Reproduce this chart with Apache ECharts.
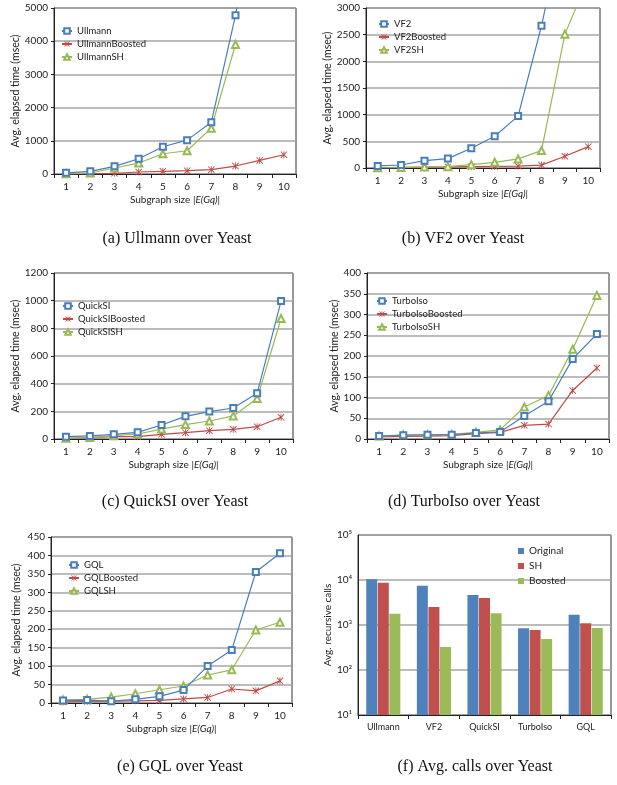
<!DOCTYPE html>
<html>
<head>
<meta charset="utf-8">
<script src="https://cdn.jsdelivr.net/npm/echarts/dist/echarts.min.js"></script>
<style>
  html, body { margin: 0; padding: 0; background: #fff; }
  #main { width: 617px; height: 785px; }
</style>
</head>
<body>
<div id="main"></div>
<script>
// x categories (query size)
const sizes = ['1', '2', '3', '4', '5', '6', '7', '8', '9', '10'];

// (a) Ullmann
const ullmann = [35, 80, 230, 460, 820, 1020, 1560, 4780, 9000, null];
const ullmannBoosted = [5, 10, 20, 60, 80, 100, 130, 240, 410, 580];
const ullmannSH = [5, 30, 180, 330, 610, 700, 1380, 3900, null, null];

// (b) VF2
const vf2 = [38, 56, 138, 176, 370, 596, 973, 2667, 4700, null];
const vf2Boosted = [5, 10, 15, 20, 25, 30, 35, 55, 220, 400];
const vf2SH = [3, 8, 19, 25, 63, 107, 170, 326, 2510, 3550];

// (c) QuickSI
const quickSI = [17, 22, 34, 48, 101, 164, 198, 224, 330, 997];
const quickSIBoosted = [5, 10, 17, 17, 34, 46, 60, 70, 89, 157];
const quickSISH = [5, 10, 24, 36, 72, 104, 130, 167, 292, 871];

// (d) TurboIso
const turboIso = [7, 9, 10, 10.5, 14.5, 17, 55.5, 91, 193, 253];
const turboIsoBoosted = [5, 6.5, 7, 8, 13, 16, 33, 36, 117, 171];
const turboIsoSH = [7, 10, 10, 11, 16, 22, 77, 105, 216, 346];

// (e) GQL
const gql = [7, 8, 5, 10, 18, 35, 100, 144, 355, 406];
const gqlBoosted = [3, 4, 5, 6, 7, 11, 15, 38, 33, 60];
const gqlSH = [8, 10, 16, 25, 36, 46, 76, 90, 198, 219];

// (f) avg. recursive calls
const algos = ['Ullmann', 'VF2', 'QuickSI', 'TurboIso', 'GQL'];
const callsOriginal = [10350, 7480, 4640, 843, 1698];
const callsSH = [8730, 2510, 3980, 774, 1089];
const callsBoosted = [1785, 325, 1815, 489, 858];

const captions = [
  '(a) Ullmann over Yeast', '(b) VF2 over Yeast',
  '(c) QuickSI over Yeast', '(d) TurboIso over Yeast',
  '(e) GQL over Yeast', '(f) Avg. calls over Yeast'
];

const FONT = 'Lato';
const BLUE = '#4a7ebb', RED = '#be4b48', GREEN = '#98b954';
// asterisk marker (x plus vertical bar), filled
const starPath = 'path://M4.4,0L5.6,0L5.6,10L4.4,10Z M0,0.9L0.9,0L10,9.1L9.1,10Z M9.1,0L10,0.9L0.9,10L0,9.1Z';

const chart = echarts.init(document.getElementById('main'));

const grids = [], xAxes = [], yAxes = [], series = [], legends = [], titles = [];

// one line panel
function linePanel(i, p) {
  grids.push({ left: p.left, top: p.top, width: p.width, height: p.height,
    show: true, borderColor: '#333', borderWidth: 1, backgroundColor: 'transparent' });
  xAxes.push({
    gridIndex: i, type: 'category', data: sizes, boundaryGap: true,
    name: 'Subgraph size |{i|E(Gq)}|', nameLocation: 'middle', nameGap: p.nameGapX,
    nameTextStyle: { fontFamily: FONT, fontSize: 10, color: '#222',
      rich: { i: { fontFamily: FONT, fontSize: 10, fontStyle: 'italic', color: '#222' } } },
    axisLine: { lineStyle: { color: '#222', width: 1 } },
    axisTick: { show: true, alignWithLabel: false, interval: 0, length: 4, lineStyle: { color: '#222' } },
    axisLabel: { interval: 0, margin: 8, fontFamily: FONT, fontSize: 10, color: '#222' },
    splitLine: { show: false }
  });
  yAxes.push({
    gridIndex: i, type: 'value', min: 0, max: p.max, interval: p.interval,
    name: 'Avg. elapsed time (msec)', nameLocation: 'middle', nameGap: p.nameGapY,
    nameTextStyle: { fontFamily: FONT, fontSize: 10.5, color: '#222' },
    axisLine: { show: true, lineStyle: { color: '#222', width: 1 } },
    axisTick: { show: true, length: 3, lineStyle: { color: '#222' } },
    axisLabel: { margin: 6, fontFamily: FONT, fontSize: 10, color: '#222', formatter: v => String(v) },
    splitLine: { show: true, lineStyle: { color: '#a6a6a6', width: 1.5 } }
  });
  const styles = [
    { symbol: 'emptyRect', color: BLUE, size: 6, bw: 1.1 },
    { symbol: starPath, color: RED, size: 7, bw: 0 },
    { symbol: 'emptyTriangle', color: GREEN, size: 7, bw: 1.1 }
  ];
  p.names.forEach((name, k) => {
    series.push({
      name: name, type: 'line', xAxisIndex: i, yAxisIndex: i, data: p.data[k],
      clip: true, symbol: styles[k].symbol, symbolSize: styles[k].size, showAllSymbol: true,
      lineStyle: { color: styles[k].color, width: 1.2 },
      itemStyle: { color: styles[k].color, borderColor: styles[k].color, borderWidth: styles[k].bw },
      z: k === 0 ? 3 : 2
    });
  });
  legends.push({
    data: p.names, orient: 'vertical', left: p.legLeft, top: p.legTop,
    itemWidth: 10, itemHeight: 7, itemGap: 3, padding: 0,
    textStyle: { fontFamily: FONT, fontSize: 9.5, color: '#222' }
  });
}

linePanel(0, { left: 54, top: 8, width: 242, height: 166, max: 5000, interval: 1000,
  nameGapX: 21, nameGapY: 31, legLeft: 61, legTop: 26,
  names: ['Ullmann', 'UllmannBoosted', 'UllmannSH'], data: [ullmann, ullmannBoosted, ullmannSH] });
linePanel(1, { left: 366, top: 8, width: 234, height: 160, max: 3000, interval: 500,
  nameGapX: 21, nameGapY: 31, legLeft: 378, legTop: 19,
  names: ['VF2', 'VF2Boosted', 'VF2SH'], data: [vf2, vf2Boosted, vf2SH] });
linePanel(2, { left: 54, top: 273, width: 239, height: 166, max: 1200, interval: 200,
  nameGapX: 21, nameGapY: 32, legLeft: 62, legTop: 301,
  names: ['QuickSI', 'QuickSIBoosted', 'QuickSISH'], data: [quickSI, quickSIBoosted, quickSISH] });
linePanel(3, { left: 367, top: 273, width: 242, height: 166, max: 400, interval: 50,
  nameGapX: 21, nameGapY: 27, legLeft: 376, legTop: 296,
  names: ['TurboIso', 'TurboIsoBoosted', 'TurboIsoSH'], data: [turboIso, turboIsoBoosted, turboIsoSH] });
linePanel(4, { left: 51, top: 537, width: 241, height: 166, max: 450, interval: 50,
  nameGapX: 21, nameGapY: 29, legLeft: 68, legTop: 560,
  names: ['GQL', 'GQLBoosted', 'GQLSH'], data: [gql, gqlBoosted, gqlSH] });

// (f) bars on log axis
const sup = ['⁰', '¹', '²', '³', '⁴', '⁵'];
grids.push({ left: 358, top: 535, width: 253, height: 180,
  show: true, borderColor: '#333', borderWidth: 1, backgroundColor: 'transparent' });
xAxes.push({
  gridIndex: 5, type: 'category', data: algos,
  axisLine: { lineStyle: { color: '#222' } },
  axisTick: { show: true, alignWithLabel: false, length: 4, lineStyle: { color: '#222' } },
  axisLabel: { margin: 8, fontFamily: FONT, fontSize: 9, color: '#222' }
});
yAxes.push({
  gridIndex: 5, type: 'log', logBase: 10, min: 10, max: 100000,
  name: 'Avg. recursive calls', nameLocation: 'middle', nameGap: 24,
  nameTextStyle: { fontFamily: FONT, fontSize: 10, color: '#222' },
  axisLine: { show: true, lineStyle: { color: '#222' } },
  axisTick: { show: false },
  axisLabel: { margin: 6, fontFamily: FONT, fontSize: 10, color: '#222',
    formatter: v => '10' + sup[Math.round(Math.log10(v))] },
  splitLine: { show: true, lineStyle: { color: '#a6a6a6', width: 1.5 } }
});
[['Original', callsOriginal, '#4f81bd'], ['SH', callsSH, '#c0504d'], ['Boosted', callsBoosted, '#9bbb59']]
  .forEach(([name, data, color]) => {
    series.push({
      name: name, type: 'bar', xAxisIndex: 5, yAxisIndex: 5, data: data, clip: true,
      barWidth: 11, barGap: '5%', itemStyle: { color: color }
    });
  });
legends.push({
  data: ['Original', 'SH', 'Boosted'], orient: 'vertical', left: 518, top: 546,
  itemWidth: 6, itemHeight: 6, itemGap: 5, padding: 0, icon: 'rect',
  textStyle: { fontFamily: FONT, fontSize: 10, color: '#222' }
});

// captions under each panel
const capPos = [[177, 231], [463, 231], [175, 494], [464, 494], [180, 759], [475, 759]];
captions.forEach((c, k) => {
  titles.push({ text: c, left: capPos[k][0], top: capPos[k][1], textAlign: 'center', padding: 0,
    textStyle: { fontFamily: 'Liberation Serif', fontSize: 16, fontWeight: 'normal', color: '#111' } });
});

chart.setOption({
  animation: false,
  title: titles,
  grid: grids,
  xAxis: xAxes,
  yAxis: yAxes,
  legend: legends,
  series: series
});
</script>
</body>
</html>
